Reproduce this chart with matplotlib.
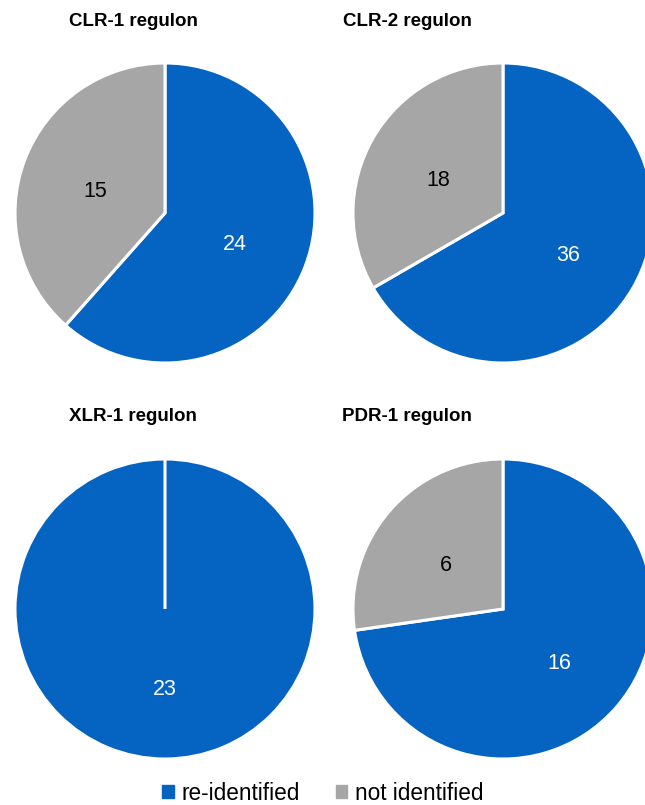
import matplotlib.pyplot as plt

# data
titles = ["CLR-1 regulon", "CLR-2 regulon", "XLR-1 regulon", "PDR-1 regulon"]
re_identified = [24, 36, 23, 16]
not_identified = [15, 18, 0, 6]
legend_labels = ["re-identified", "not identified"]

BLUE = "#0563C1"
GRAY = "#A6A6A6"

plt.rcParams["font.family"] = ["Liberation Sans", "DejaVu Sans"]

W, H = 645, 805
fig = plt.figure(figsize=(W / 100, H / 100), dpi=100)

# pixel layout: pie centres, radius, title centres
centres = [(165, 213), (503, 213), (165, 609), (503, 609)]
title_pos = [(133, 22), (407, 22), (133, 416), (407, 416)]
R = 150

for i in range(4):
    cx, cy = centres[i]
    ax = fig.add_axes([(cx - R) / W, (H - cy - R) / H, 2 * R / W, 2 * R / H])
    vals = [re_identified[i], not_identified[i]]
    counts = list(vals)
    wedges, texts, autotexts = ax.pie(
        vals,
        colors=[BLUE, GRAY],
        startangle=90,
        counterclock=False,
        autopct=lambda p, c=counts: "" if p == 0 else f"{round(p * sum(c) / 100):d}",
        pctdistance=0.5,
        wedgeprops=dict(edgecolor="white", linewidth=2.2),
        textprops=dict(fontsize=15.5),
    )
    autotexts[0].set_color("white")
    autotexts[1].set_color("black")
    # labels sit a little lower than the wedge midpoints
    for t in autotexts:
        x, y = t.get_position()
        t.set_position((x, y - 0.035))
    ax.set_xlim(-1, 1)
    ax.set_ylim(-1, 1)
    ax.set_aspect("auto")
    ax.axis("off")
    tx, ty = title_pos[i]
    fig.text(tx / W, 1 - ty / H, titles[i], ha="center", va="center",
             fontsize=13.5, fontweight="bold")

# legend
handles = [plt.Rectangle((0, 0), 1, 1, color=BLUE),
           plt.Rectangle((0, 0), 1, 1, color=GRAY)]
fig.legend(handles, legend_labels, loc="center", bbox_to_anchor=(323 / W, 1 - 793 / H),
           ncol=2, frameon=False, fontsize=16.3, handlelength=0.5, handleheight=0.5,
           handletextpad=0.35, columnspacing=1.6)

fig.savefig("out.png", dpi=100)
